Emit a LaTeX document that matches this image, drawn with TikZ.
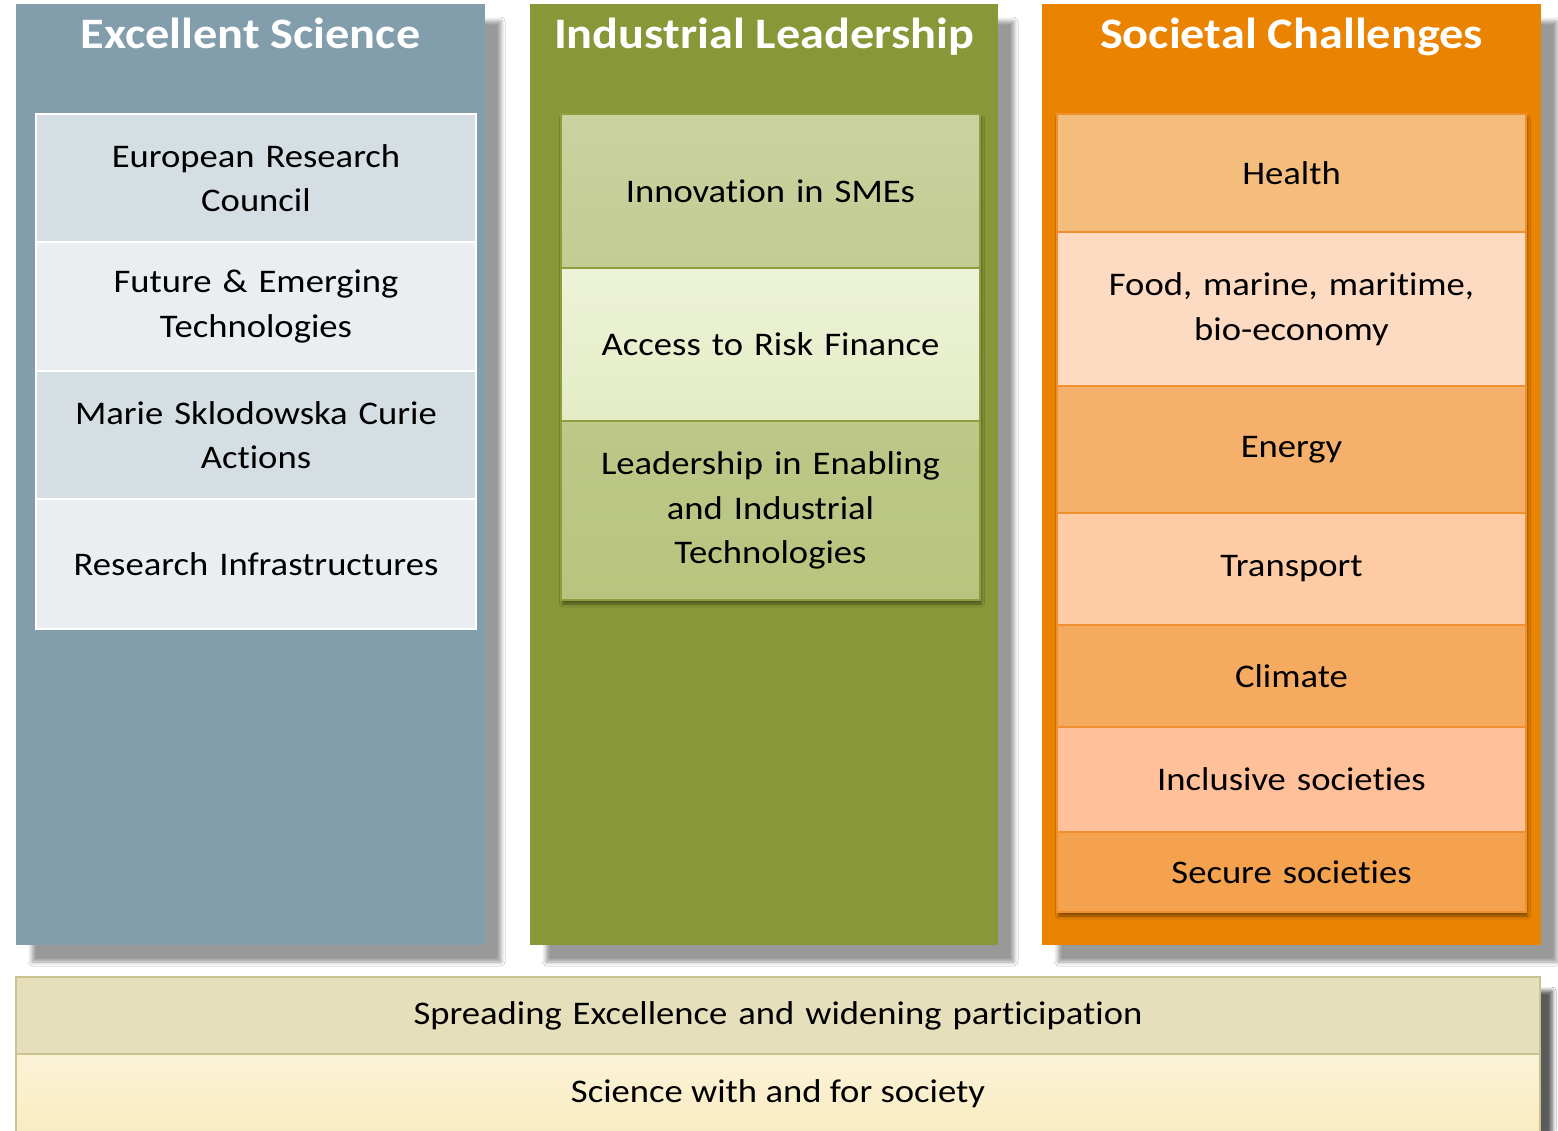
\documentclass[tikz,border=0pt]{standalone}
\usepackage{fontspec}
\setmainfont{Carlito}[FakeStretch=1.11, Ligatures={NoCommon,NoRare,NoContextual,NoDiscretionary}]
\usetikzlibrary{shadows.blur}
\definecolor{esbg}{HTML}{829DAC}
\definecolor{esA}{HTML}{D5DEE2}
\definecolor{esB}{HTML}{EAEEF1}
\definecolor{ilbg}{HTML}{889838}
\definecolor{illine}{HTML}{8E9E3E}
\definecolor{ilAt}{HTML}{CAD2A0}
\definecolor{ilAb}{HTML}{C2CC92}
\definecolor{ilBt}{HTML}{EDF3D6}
\definecolor{ilBb}{HTML}{E3ECC6}
\definecolor{ilCt}{HTML}{BDC889}
\definecolor{ilCb}{HTML}{B8C47E}
\definecolor{scbg}{HTML}{E98300}
\definecolor{scline}{HTML}{EE9030}
\definecolor{scA}{HTML}{F5BD7C}
\definecolor{scB}{HTML}{FDDBC2}
\definecolor{scC}{HTML}{F5B06B}
\definecolor{scD}{HTML}{FECBA5}
\definecolor{scE}{HTML}{F5AA60}
\definecolor{scF}{HTML}{FFC09A}
\definecolor{scG}{HTML}{F5A24F}
\definecolor{bA}{HTML}{E6DFBC}
\definecolor{bBt}{HTML}{FBF3D8}
\definecolor{bBb}{HTML}{F9EBBE}
\definecolor{bline}{HTML}{CBC38E}
\tikzset{
  colbox/.style={anchor=north west, outer sep=0pt, inner sep=0pt,
    blur shadow={shadow xshift=16pt, shadow yshift=-17pt, shadow blur radius=4pt, shadow opacity=40}},
  grpshadow/.style={anchor=north west, outer sep=0pt, inner sep=0pt,
    blur shadow={shadow xshift=1.5pt, shadow yshift=-4pt, shadow blur radius=3pt, shadow opacity=45}},
  title/.style={anchor=base, text=white, font=\fontsize{43.5}{50}\selectfont\bfseries, inner sep=0pt},
  cell/.style={anchor=north west, outer sep=0pt, inner sep=0pt, align=center,
    font=\fontsize{33}{44.5}\selectfont, text=black},
  escell/.style={cell, draw=white, line width=2.5pt, minimum width=440, text width=430pt},
  ilcell/.style={cell, draw=illine, line width=1.5pt, minimum width=419, text width=410pt},
  sccell/.style={cell, draw=scline, line width=1.5pt, minimum width=469, text width=460pt},
  bcell/.style={cell, draw=bline, line width=1.5pt, minimum width=1524, text width=1500pt},
}
\begin{document}
\begin{tikzpicture}[x=1pt,y=-1pt]
\useasboundingbox (0,0) rectangle (1558,1130);
\fill[white] (0,0) rectangle (1558,1130);
% columns
\node[colbox, fill=esbg, minimum width=469, minimum height=941] (es) at (16,4) {};
\node[colbox, fill=ilbg, minimum width=468, minimum height=941] (il) at (530,4) {};
\node[colbox, fill=scbg, minimum width=499, minimum height=941] (sc) at (1042,4) {};
\node[title] (est) at (250.5,48) {Excellent Science};
\node[title] (ilt) at (764,48) {Industrial Leadership};
\node[title] (sct) at (1291.5,48) {Societal Challenges};
% Excellent science cells
\node[escell, fill=esA, minimum height=128] (erc) at (36,114) {European Research\\Council};
\node[escell, fill=esB, minimum height=129] (fet) at (36,242) {Future \& Emerging\\Technologies};
\node[escell, fill=esA, minimum height=128] (msca) at (36,371) {Marie Sklodowska Curie\\Actions};
\node[escell, fill=esB, minimum height=130] (ri) at (36,499) {Research Infrastructures};
% Industrial leadership cells
\node[grpshadow, fill=ilCb, minimum width=419, minimum height=486] (ilg) at (561,114) {};
\node[ilcell, top color=ilAt, bottom color=ilAb, minimum height=154] (sme) at (561,114) {Innovation in SMEs};
\node[ilcell, top color=ilBt, bottom color=ilBb, minimum height=153] (rf) at (561,268) {Access to Risk Finance};
\node[ilcell, top color=ilCt, bottom color=ilCb, minimum height=179] (leit) at (561,421) {Leadership in Enabling\\and Industrial\\Technologies};
% Societal challenges cells
\node[grpshadow, fill=scG, minimum width=469, minimum height=798] (scg) at (1057,114) {};
\node[sccell, fill=scA, minimum height=118] (health) at (1057,114) {Health};
\node[sccell, fill=scB, minimum height=154] (food) at (1057,232) {Food, marine, maritime,\\bio-economy};
\node[sccell, fill=scC, minimum height=127] (energy) at (1057,386) {Energy};
\node[sccell, fill=scD, minimum height=112] (transport) at (1057,513) {Transport};
\node[sccell, fill=scE, minimum height=102] (climate) at (1057,625) {Climate};
\node[sccell, fill=scF, minimum height=105] (inclusive) at (1057,727) {Inclusive societies};
\node[sccell, fill=scG, minimum height=80] (secure) at (1057,832) {Secure societies};
% bottom band
\node[colbox, fill=bBb, minimum width=1524, minimum height=165, blur shadow={shadow xshift=12pt, shadow yshift=-14pt, shadow blur radius=4pt, shadow opacity=40}] (bg) at (16,977) {};
\node[bcell, fill=bA, minimum height=77] (sewp) at (16,977) {Spreading Excellence and widening participation};
\node[bcell, top color=bBt, bottom color=bBb, minimum height=88] (swafs) at (16,1054) {};
\node[cell, anchor=center] (swafst) at (778,1094) {Science with and for society};
\end{tikzpicture}
\end{document}
